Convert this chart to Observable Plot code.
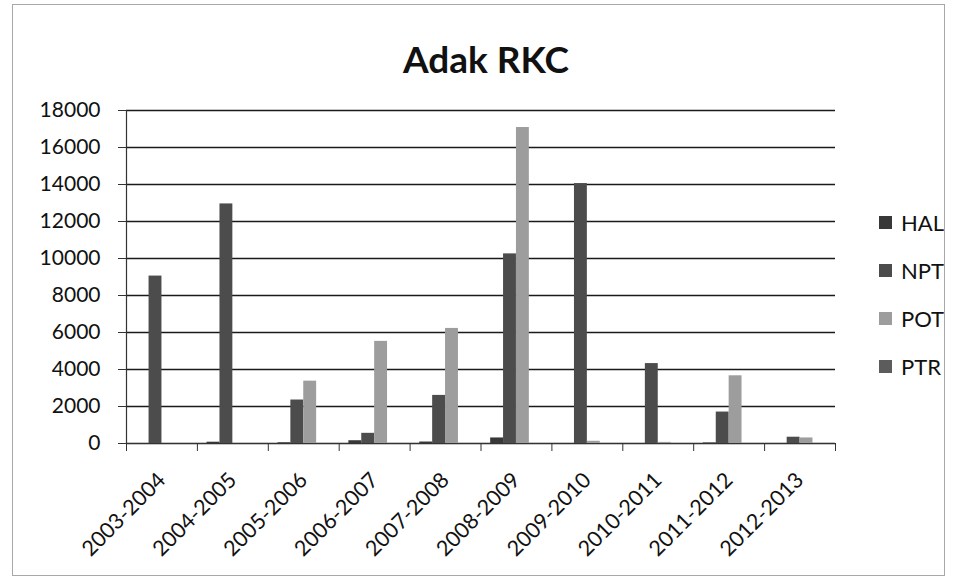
<!DOCTYPE html>
<html>
<head>
<meta charset="utf-8">
<script src="https://cdn.jsdelivr.net/npm/d3@7"></script>
<script src="https://cdn.jsdelivr.net/npm/@observablehq/plot@0.6"></script>
<style>
  body { margin: 0; background: #fff; font-family: Lato, "Open Sans", sans-serif; }
  #wrap { position: relative; width: 957px; height: 579px; overflow: hidden; background: #fff; }
  #chart { position: absolute; left: 0; top: 0; }
  #title { position: absolute; left: 0; width: 972px; top: 40px; text-align: center;
           font: 700 37px/37px Lato, sans-serif; color: #111; }
  #legend { position: absolute; left: 879px; top: 198px; font: 22px Lato, sans-serif; color: #111; }
  #legend .row { display: flex; align-items: center; height: 48px; }
  #legend .sw { width: 13px; height: 13px; margin-right: 9px; }
  #border { position: absolute; left: 12px; top: 4px; width: 933px; height: 572px;
            border: 1px solid #a8a8a8; box-sizing: border-box; pointer-events: none; }
</style>
</head>
<body>
<div id="wrap">
  <div id="chart"></div>
  <div id="title">Adak RKC</div>
  <div id="legend"></div>
  <div id="border"></div>
</div>
<script>
// ---- data ----
const years = ["2003-2004", "2004-2005", "2005-2006", "2006-2007", "2007-2008",
               "2008-2009", "2009-2010", "2010-2011", "2011-2012", "2012-2013"];
const seriesNames = ["HAL", "NPT", "POT", "PTR"];
const HAL = [0, 70, 40, 150, 80, 300, 0, 0, 30, 0];
const NPT = [9050, 12950, 2350, 550, 2600, 10250, 14050, 4320, 1700, 340];
const POT = [0, 0, 3370, 5520, 6220, 17080, 120, 60, 3660, 300];
const PTR = [0, 0, 0, 0, 0, 0, 0, 0, 0, 0];
const yTicks = [0, 2000, 4000, 6000, 8000, 10000, 12000, 14000, 16000, 18000];
const colors = ["#383838", "#4c4c4c", "#9d9d9d", "#5c5c5c"];

const seriesValues = [HAL, NPT, POT, PTR];
const rows = years.flatMap((yr, i) =>
  seriesNames.map((s, k) => ({ year: yr, i, k, series: s, value: seriesValues[k][i] })));

const gapWidth = 1.5;                       // Excel-like gap, in bar widths
const slots = seriesNames.length + gapWidth;

const chart = Plot.plot({
  width: 957,
  height: 579,
  marginLeft: 126,
  marginRight: 122,
  marginTop: 110,
  marginBottom: 136,
  style: { fontFamily: "Lato, sans-serif", color: "#111", background: "transparent" },
  x: { domain: [0, years.length], label: null },
  y: { domain: [0, 18000], label: null },
  color: { domain: seriesNames, range: colors },
  marks: [
    Plot.gridY(yTicks, { stroke: "#1a1a1a", strokeOpacity: 1, strokeWidth: 1.5 }),
    Plot.rectY(rows, {
      x1: d => d.i + (gapWidth / 2 + d.k) / slots,
      x2: d => d.i + (gapWidth / 2 + d.k + 1) / slots,
      y1: 0,
      y2: "value",
      fill: "series"
    }),
    Plot.ruleX([0], { stroke: "#333", strokeWidth: 1.2 }),
    Plot.ruleY([0], { stroke: "#333", strokeWidth: 1.2 }),
    Plot.axisY({ ticks: yTicks, tickSize: 8, tickPadding: 18, fontSize: 21,
                 tickFormat: d => String(d), stroke: "#333", label: null }),
    Plot.axisX({ ticks: d3.range(0, years.length + 1), tickSize: 8,
                 tickFormat: () => "", stroke: "#333", label: null }),
    Plot.axisX({ ticks: years.map((_, i) => i + 0.5), tickSize: 0, tickPadding: 33,
                 tickRotate: -45, fontSize: 21.5, tickFormat: v => years[Math.floor(v)],
                 label: null })
  ]
});
document.getElementById("chart").appendChild(chart);

const legend = document.getElementById("legend");
seriesNames.forEach((s, k) => {
  const row = document.createElement("div");
  row.className = "row";
  const sw = document.createElement("span");
  sw.className = "sw";
  sw.style.background = chart.scale("color").range[k];
  const label = document.createElement("span");
  label.textContent = s;
  row.appendChild(sw);
  row.appendChild(label);
  legend.appendChild(row);
});
</script>
</body>
</html>
